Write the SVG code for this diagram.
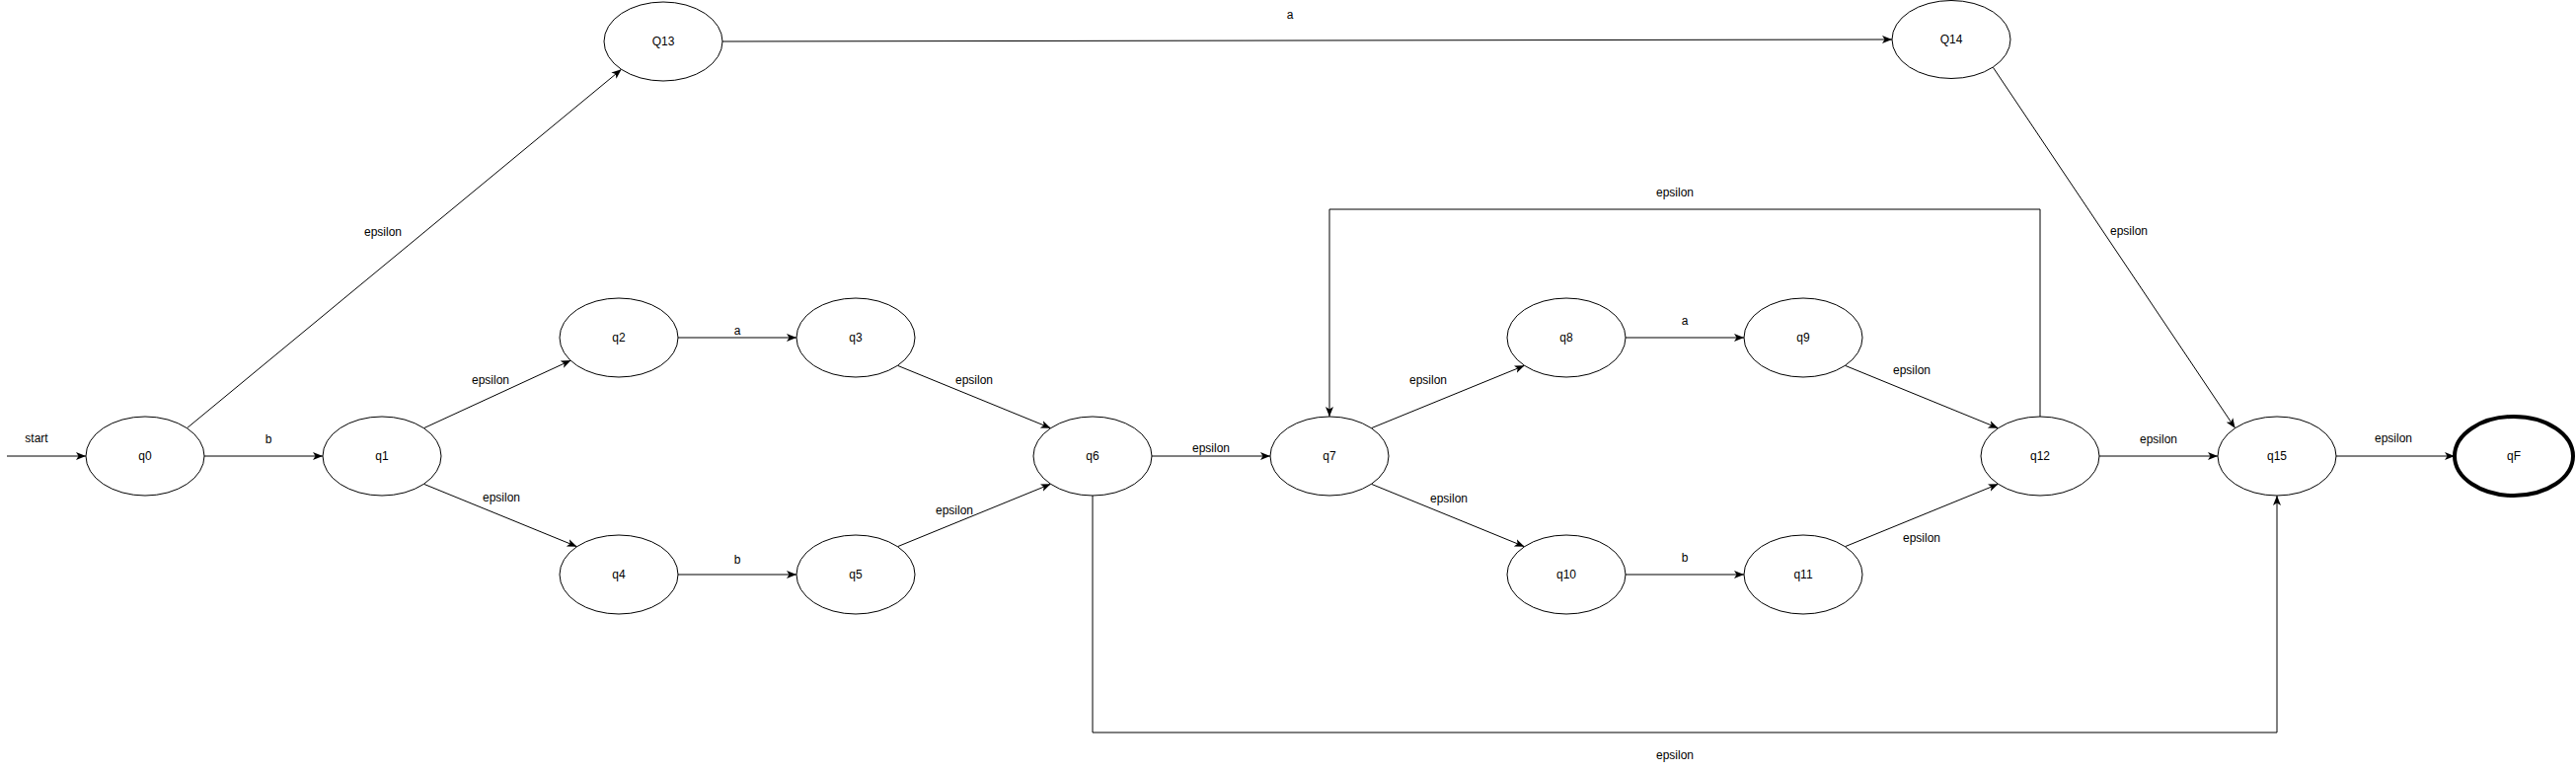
<svg xmlns="http://www.w3.org/2000/svg" width="2610" height="781" viewBox="0 0 2610 781">
<style>
.n ellipse{fill:#fff;stroke:#000;stroke-width:1}
.n text,.lbl text{font-family:"Liberation Sans",Arial,Helvetica,sans-serif;font-size:12px;fill:#000;text-anchor:middle;dominant-baseline:central}
.e{fill:none;stroke:#000;stroke-width:1;marker-end:url(#arr)}
.f ellipse{stroke-width:4}
</style>
<defs>
<marker id="arr" markerUnits="userSpaceOnUse" markerWidth="12" markerHeight="10" refX="10" refY="4" orient="auto">
<path d="M0,0 L10,4 L0,8 L2.5,4 Z" fill="#000"/>
</marker>
</defs>
<rect width="2610" height="781" fill="#fff"/>
<g id="connectors">
<path class="e" d="M7,462 L87,462"/>
<path class="e" d="M207,462 L327,462"/>
<path class="e" d="M189.4,433.7 L629.6,70.3"/>
<path class="e" d="M429.4,433.7 L578.5,365"/>
<path class="e" d="M429.4,490.3 L584.6,553.7"/>
<path class="e" d="M687,342 L807,342"/>
<path class="e" d="M687,582 L807,582"/>
<path class="e" d="M909.4,370.3 L1064.6,433.7"/>
<path class="e" d="M909.4,553.7 L1064.6,490.3"/>
<path class="e" d="M1167,462 L1287,462"/>
<path class="e" d="M1389.4,433.7 L1544.6,370.3"/>
<path class="e" d="M1389.4,490.3 L1544.6,553.7"/>
<path class="e" d="M1647,342 L1767,342"/>
<path class="e" d="M1647,582 L1767,582"/>
<path class="e" d="M1869.4,370.3 L2024.6,433.7"/>
<path class="e" d="M1869.4,553.7 L2024.6,490.3"/>
<path class="e" d="M2127,462 L2247,462"/>
<path class="e" d="M2367,462 L2487,462"/>
<path class="e" d="M732,42 L1917,40"/>
<path class="e" d="M2019.4,68.3 L2264.6,433.7"/>
<path class="e" d="M2067,422 L2067,212 L1347,212 L1347,422"/>
<path class="e" d="M1107,502 L1107,742 L2307,742 L2307,502"/>
</g>
<g id="edge-labels" class="lbl">
<text x="37" y="444">start</text>
<text x="272" y="445">b</text>
<text x="388" y="235">epsilon</text>
<text x="497" y="385">epsilon</text>
<text x="508" y="504">epsilon</text>
<text x="747" y="335">a</text>
<text x="747" y="567">b</text>
<text x="987" y="385">epsilon</text>
<text x="967" y="517">epsilon</text>
<text x="1227" y="454">epsilon</text>
<text x="1447" y="385">epsilon</text>
<text x="1468" y="505">epsilon</text>
<text x="1707" y="325">a</text>
<text x="1707" y="565">b</text>
<text x="1937" y="375">epsilon</text>
<text x="1947" y="545">epsilon</text>
<text x="2187" y="445">epsilon</text>
<text x="2425" y="444">epsilon</text>
<text x="2157" y="234">epsilon</text>
<text x="1307" y="15">a</text>
<text x="1697" y="195">epsilon</text>
<text x="1697" y="765">epsilon</text>
</g>
<g id="q0" class="n"><ellipse cx="147" cy="462" rx="60" ry="40"/><text x="147" y="462">q0</text></g>
<g id="q1" class="n"><ellipse cx="387" cy="462" rx="60" ry="40"/><text x="387" y="462">q1</text></g>
<g id="q2" class="n"><ellipse cx="627" cy="342" rx="60" ry="40"/><text x="627" y="342">q2</text></g>
<g id="q3" class="n"><ellipse cx="867" cy="342" rx="60" ry="40"/><text x="867" y="342">q3</text></g>
<g id="q4" class="n"><ellipse cx="627" cy="582" rx="60" ry="40"/><text x="627" y="582">q4</text></g>
<g id="q5" class="n"><ellipse cx="867" cy="582" rx="60" ry="40"/><text x="867" y="582">q5</text></g>
<g id="q6" class="n"><ellipse cx="1107" cy="462" rx="60" ry="40"/><text x="1107" y="462">q6</text></g>
<g id="q7" class="n"><ellipse cx="1347" cy="462" rx="60" ry="40"/><text x="1347" y="462">q7</text></g>
<g id="q8" class="n"><ellipse cx="1587" cy="342" rx="60" ry="40"/><text x="1587" y="342">q8</text></g>
<g id="q9" class="n"><ellipse cx="1827" cy="342" rx="60" ry="40"/><text x="1827" y="342">q9</text></g>
<g id="q10" class="n"><ellipse cx="1587" cy="582" rx="60" ry="40"/><text x="1587" y="582">q10</text></g>
<g id="q11" class="n"><ellipse cx="1827" cy="582" rx="60" ry="40"/><text x="1827" y="582">q11</text></g>
<g id="q12" class="n"><ellipse cx="2067" cy="462" rx="60" ry="40"/><text x="2067" y="462">q12</text></g>
<g id="q15" class="n"><ellipse cx="2307" cy="462" rx="60" ry="40"/><text x="2307" y="462">q15</text></g>
<g id="qF" class="n f"><ellipse cx="2547" cy="462" rx="60" ry="40"/><text x="2547" y="462">qF</text></g>
<g id="Q13" class="n"><ellipse cx="672" cy="42" rx="60" ry="40"/><text x="672" y="42">Q13</text></g>
<g id="Q14" class="n"><ellipse cx="1977" cy="40" rx="60" ry="39.5"/><text x="1977" y="40">Q14</text></g>
</svg>
